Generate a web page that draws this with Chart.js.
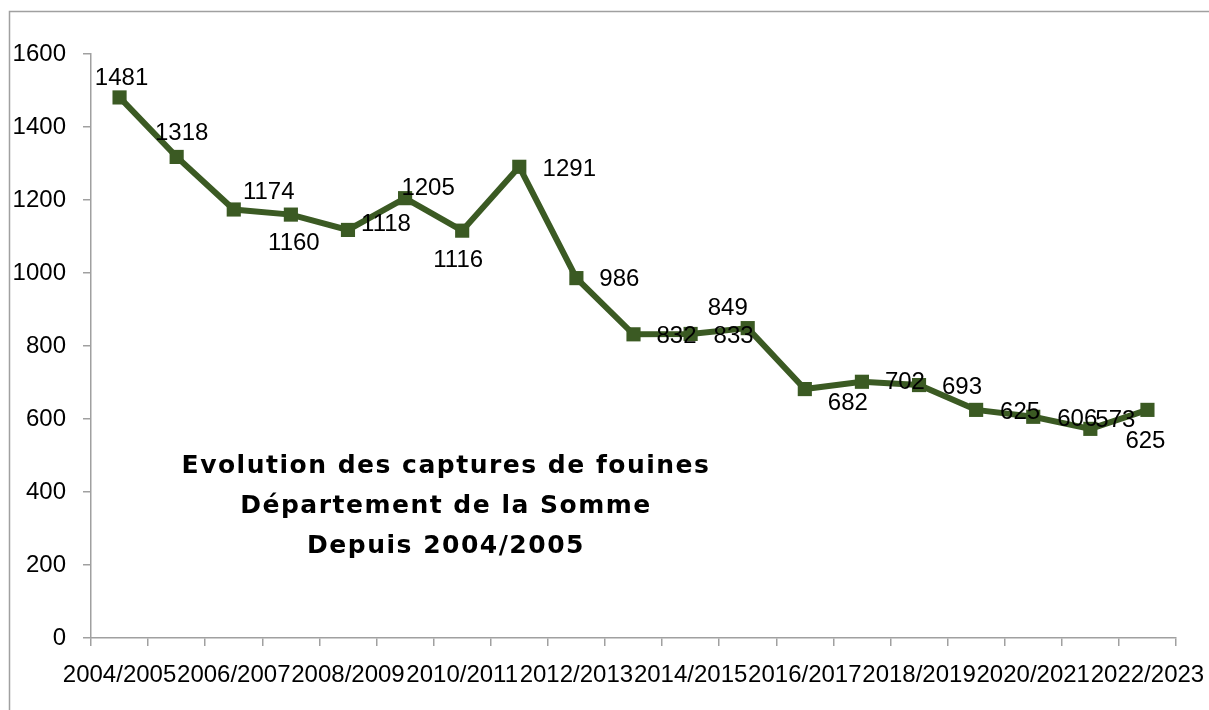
<!DOCTYPE html>
<html>
<head>
<meta charset="utf-8">
<script src="https://cdn.jsdelivr.net/npm/chart.js@4"></script>
<style>
html,body{margin:0;padding:0;background:#fff;}
#wrap{position:relative;width:1209px;height:710px;}
</style>
</head>
<body>
<div id="wrap"><canvas id="c" width="1209" height="710"></canvas></div>
<script>
const categories = ["2004/2005","2005/2006","2006/2007","2007/2008","2008/2009","2009/2010","2010/2011","2011/2012","2012/2013","2013/2014","2014/2015","2015/2016","2016/2017","2017/2018","2018/2019","2019/2020","2020/2021","2021/2022","2022/2023"];
const captures = [1481,1318,1174,1160,1118,1205,1116,1291,986,832,833,849,682,702,693,625,606,573,625];
const yTicks = [0,200,400,600,800,1000,1200,1400,1600];
const titleLines = ["Evolution des captures de fouines","Département de la Somme","Depuis 2004/2005"];
// label offsets (style only): [dx, dy] in pixels relative to each point
const labelOffsets = [[2,-19],[5,-24],[35,-17],[3,29],[38,-6],[23,-10],[-4,30],[50,3],[43,1],[43,2],[43,2],[-20,-20],[43,14],[43,1],[43,2],[44,2],[44,3],[25,-8],[-2,31]];

const GREEN = '#3b5a23';
const AXIS = '#a0a0a0';
const FONT = "'Liberation Sans', Arial, sans-serif";

const framePlugin = {
  id: 'frame',
  beforeDraw(chart) {
    const ctx = chart.ctx;
    ctx.save();
    ctx.fillStyle = '#fff';
    ctx.fillRect(0,0,chart.width,chart.height);
    ctx.strokeStyle = AXIS;
    ctx.lineWidth = 1.5;
    ctx.beginPath();
    ctx.moveTo(9.5, 710);
    ctx.lineTo(9.5, 11.5);
    ctx.lineTo(1209, 11.5);
    ctx.stroke();
    ctx.restore();
  }
};

const labelsPlugin = {
  id: 'vlabels',
  afterDatasetsDraw(chart) {
    const ctx = chart.ctx;
    const meta = chart.getDatasetMeta(0);
    ctx.save();
    ctx.font = "24px " + FONT;
    ctx.fillStyle = '#000';
    ctx.textAlign = 'center';
    ctx.textBaseline = 'middle';
    meta.data.forEach((pt, i) => {
      const o = labelOffsets[i] || [0,-20];
      ctx.fillText(String(captures[i]), pt.x + o[0], pt.y + o[1]);
    });
    ctx.restore();
  }
};

const titlePlugin = {
  id: 'innerTitle',
  afterDraw(chart) {
    const ctx = chart.ctx;
    ctx.save();
    ctx.font = "bold 25px 'DejaVu Sans', sans-serif";
    try { ctx.letterSpacing = '1.5px'; } catch (e) {}
    ctx.fillStyle = '#000';
    ctx.textAlign = 'center';
    ctx.textBaseline = 'middle';
    titleLines.forEach((t, i) => ctx.fillText(t, 446, 466 + i * 40));
    ctx.restore();
  }
};

new Chart(document.getElementById('c'), {
  type: 'line',
  data: {
    labels: categories,
    datasets: [{
      data: captures,
      borderColor: GREEN,
      backgroundColor: GREEN,
      borderWidth: 6,
      tension: 0,
      pointStyle: 'rect',
      pointRadius: 10,
      pointHoverRadius: 10,
      pointBackgroundColor: GREEN,
      pointBorderColor: GREEN,
      pointBorderWidth: 0,
      fill: false
    }]
  },
  options: {
    responsive: false,
    animation: false,
    devicePixelRatio: 1,
    layout: { padding: { left: 0, top: 54, right: 33, bottom: 0 } },
    plugins: { legend: { display: false }, tooltip: { enabled: false }, title: { display: false } },
    scales: {
      x: {
        type: 'category',
        offset: true,
        grid: { display: true, offset: true, drawOnChartArea: false, color: AXIS, tickLength: 8, lineWidth: 1.5 },
        border: { display: true, color: AXIS, width: 1.5 },
        ticks: {
          autoSkip: false, maxRotation: 0, minRotation: 0,
          color: '#000', font: { family: FONT, size: 24 }, padding: 15,
          callback: function(v, i) { return i % 2 === 0 ? categories[i] : ''; }
        },
        afterFit(s) { s.height = 72; s.paddingLeft = 0; s.paddingRight = 0; }
      },
      y: {
        min: 0, max: 1600,
        afterBuildTicks(s) { s.ticks = yTicks.map(v => ({ value: v })); },
        grid: { display: true, drawOnChartArea: false, color: AXIS, tickLength: 8, lineWidth: 1.5 },
        border: { display: true, color: AXIS, width: 1.5 },
        ticks: { color: '#000', font: { family: FONT, size: 24 }, padding: 17,
          callback: function(v) { return String(v); } },
        afterFit(s) { s.width = 91; s.paddingTop = 0; s.paddingBottom = 0; }
      }
    }
  },
  plugins: [framePlugin, labelsPlugin, titlePlugin]
});
</script>
</body>
</html>
